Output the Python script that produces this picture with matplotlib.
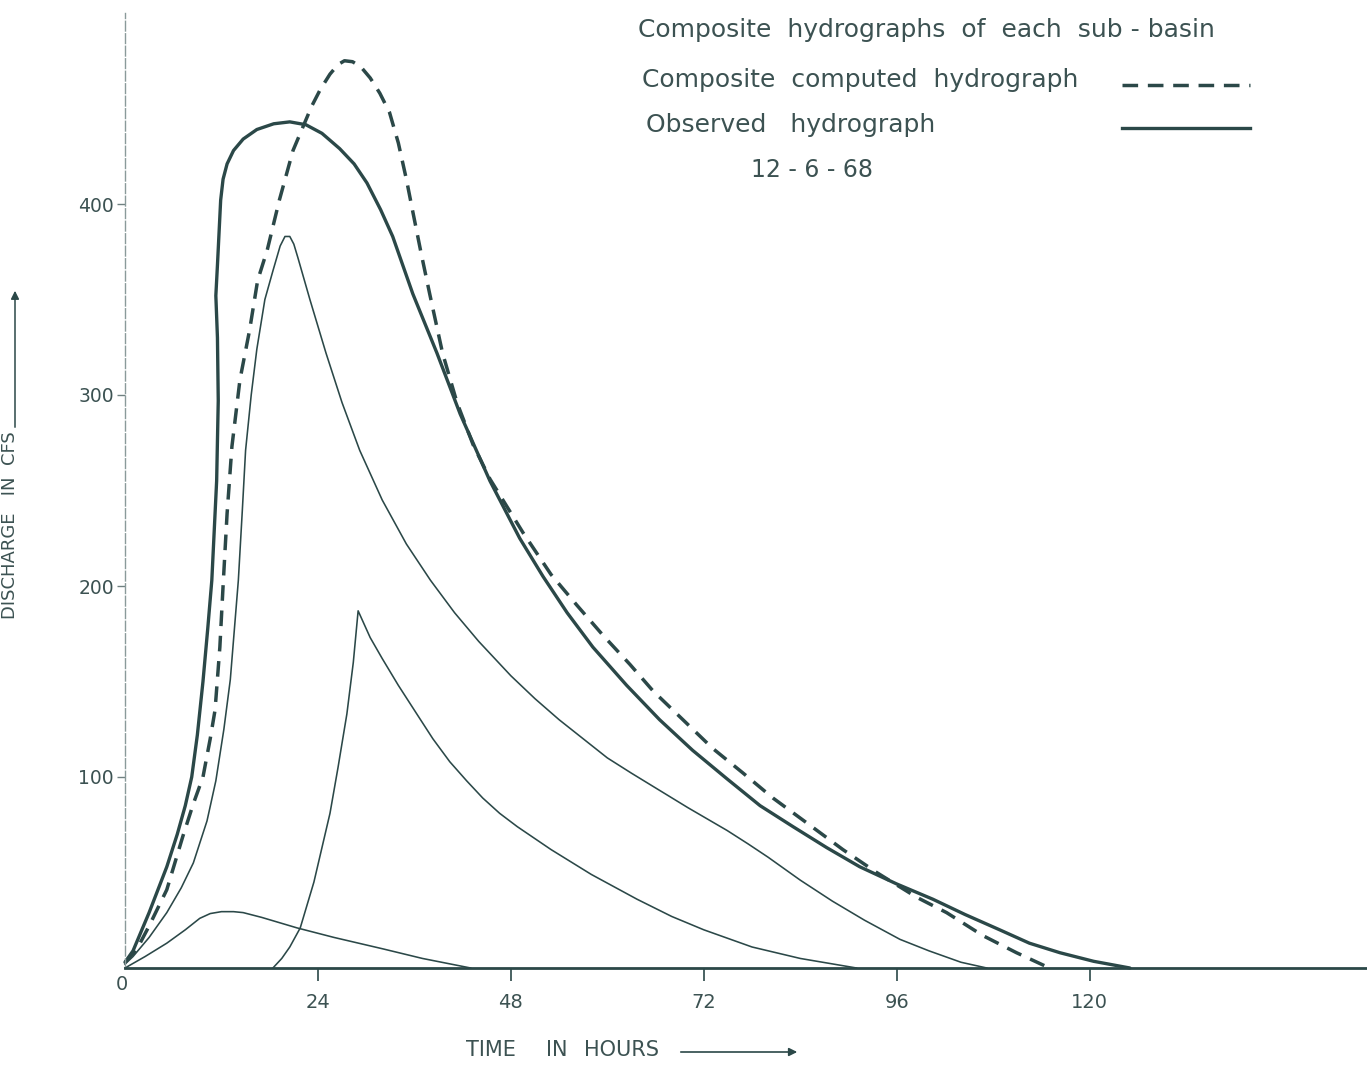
import matplotlib
matplotlib.use('Agg')
import matplotlib.pyplot as plt

# --- Hydrograph data, storm of 12-6-68 (hours, cfs) ---
obs_t = [0, 1, 3, 5.2, 6.5, 7.5, 8.3, 9.0, 9.7, 10.3, 10.8, 11.4, 11.6, 11.5, 11.3, 11.5,
         11.7, 11.9, 12.2, 12.7, 13.5, 14.7, 16.4, 18.5, 20.5, 22.5, 24.5, 26.7, 28.5,
         30.1, 31.8, 33.3, 35.8, 38.8, 41.7, 45.4, 49.1, 52, 55, 58.2, 62.4, 66.5, 70.6,
         74.9, 79, 83.1, 87.3, 91.4, 96, 100.5, 104.5, 108.8, 112.5, 116.3, 120.5, 125]
obs_q = [3, 9, 29, 53, 70, 85, 100, 122, 150, 178, 203, 255, 297, 330, 352, 368,
         385, 402, 413, 421, 428, 434, 439, 442, 443, 441.5, 437, 429, 421,
         411, 397, 383, 353, 322, 290, 255, 225, 205, 186, 168, 148, 130, 114,
         99, 85, 74, 63, 53, 44, 36, 28, 20, 13, 8, 3.5, 0]

comp_t = [0, 1.5, 3, 5.2, 7.2, 8.5, 9.7, 10.6, 11.2, 11.8, 12.2, 12.7, 13.3, 14.3, 15.5,
          16.5, 17.7, 19.2, 20.9, 22.1, 23.2, 24.3, 25.5, 26.5, 27.3, 28.3, 29.3, 30.5,
          31.7, 32.9, 34.0, 35.0, 35.8, 36.8, 37.9, 39.5, 41.3, 43.3, 45.4, 49.5, 53,
          56.2, 59.5, 62.8, 65.7, 69.4, 73.1, 76.9, 80.6, 84.8, 89.3, 93.5, 98.5, 102.2,
          106.7, 110.9, 115]
comp_q = [3, 10, 22, 41, 69, 86, 100, 120, 135, 168, 200, 238, 273, 308, 334,
          360, 376, 402, 428, 440, 451, 460, 468, 473, 475, 474.5, 472, 466,
          458, 448, 432, 413, 396, 375, 353, 322, 296, 274, 256, 228, 206,
          190, 174, 159, 145, 130, 115, 102, 89, 76, 62, 50, 37, 29,
          17, 8, 0]

# sub-basin hydrographs
sb1_t = [0, 1, 3, 5.2, 7, 8.5, 10.2, 11.3, 12.3, 13.1, 14.1, 14.6, 15.0, 15.7, 16.4, 17.4,
         18.4, 19.3, 19.9, 20.5, 21.0, 21.5, 23, 25, 27, 29.2, 32, 35, 38, 41, 44, 48,
         51, 54, 57, 60, 63, 66.5, 70, 74.9, 77.5, 80, 84, 88, 92, 96.4, 100, 104, 107.2]
sb1_q = [2, 6, 16, 29, 42, 55, 77, 98, 125, 151, 203, 240, 271, 300, 324, 350,
         365, 378, 383, 383, 379, 372, 350, 322, 296, 271, 245, 222, 203, 186, 171, 153,
         141, 130, 120, 110, 102, 93, 84, 72, 65, 58, 46, 35, 25, 15, 9, 3, 0]

sb2_t = [18.4, 19.5, 20.5, 21.8, 23.5, 25.5, 26.5, 27.6, 28.4, 29.0, 30.5, 32, 34, 36.3,
         38.3, 40.4, 42.5, 44.5, 46.6, 48.8, 50.9, 53, 58, 63.7, 68, 72, 78, 84, 91]
sb2_q = [0, 5, 11, 21, 45, 81, 105, 133, 160, 187, 173, 162, 148, 133,
         120, 108, 98, 89, 81, 74, 68, 62, 49, 36, 27, 20, 11, 5, 0]

sb3_t = [0, 2.5, 5.2, 7.5, 9.3, 10.6, 12, 13.5, 14.7, 17, 21.4, 26, 32.1, 37, 43]
sb3_q = [0, 6, 13, 20, 26, 28.5, 29.5, 29.5, 29, 26.5, 21, 16, 10, 5, 0]

x_ticks = [24, 48, 72, 96, 120]
y_ticks = [100, 200, 300, 400]

INK = '#2b4848'
TXT = '#3c5252'
W, H = 1367, 1065


def fx(px):
    return px / W


def fy(py):
    return 1 - py / H


fig = plt.figure(figsize=(13.67, 10.65), dpi=100)
fig.patch.set_facecolor('white')
ax = fig.add_axes([fx(125), fy(968), 1 - fx(125), fy(13) - fy(968)])
ax.set_xlim(0, 154.5)
ax.set_ylim(0, 500)

# sub-basin curves (thin)
for t, q in [(sb1_t, sb1_q), (sb2_t, sb2_q), (sb3_t, sb3_q)]:
    ax.plot(t, q, color=INK, lw=1.15, solid_joinstyle='round', clip_on=False)

# composite computed (dashed) and observed (heavy solid)
ax.plot(comp_t, comp_q, color=INK, lw=2.5, dashes=(4.5, 2.8), clip_on=False)
ax.plot(obs_t, obs_q, color=INK, lw=2.4, solid_joinstyle='round',
        solid_capstyle='round', clip_on=False)

# axes styling
for s in ['top', 'right']:
    ax.spines[s].set_visible(False)
ax.spines['bottom'].set_color(INK)
ax.spines['bottom'].set_linewidth(2.0)
ax.spines['left'].set_color('#8a9a9a')
ax.spines['left'].set_linewidth(1.0)
ax.spines['left'].set_linestyle((0, (7, 2)))

ax.set_xticks(x_ticks)
ax.set_xticklabels([str(v) for v in x_ticks])
ax.set_yticks(y_ticks)
ax.set_yticklabels([str(v) for v in y_ticks])
ax.tick_params(axis='x', direction='out', length=9, width=1.2, color=INK,
               pad=9, labelsize=14, labelcolor=TXT)
ax.tick_params(axis='y', direction='out', length=6, width=1.0, color='#6f8080',
               pad=2, labelsize=13.5, labelcolor=TXT)
fig.text(fx(122), fy(984), '0', ha='center', va='center', fontsize=14, color=TXT)

# axis titles
for word, xc in [('TIME', 491), ('IN', 557), ('HOURS', 622)]:
    fig.text(fx(xc), fy(1050), word, ha='center', va='center', fontsize=15, color=TXT)
fig.add_artist(matplotlib.patches.FancyArrowPatch(
    (fx(678), fy(1052)), (fx(800), fy(1052)), transform=fig.transFigure,
    arrowstyle='-|>', mutation_scale=12, color=INK, lw=1.2))
fig.text(fx(10), fy(525), 'DISCHARGE   IN  CFS', ha='center', va='center',
         rotation=90, fontsize=13, color=TXT)
fig.add_artist(matplotlib.patches.FancyArrowPatch(
    (fx(15), fy(430)), (fx(15), fy(288)), transform=fig.transFigure,
    arrowstyle='-|>', mutation_scale=12, color=INK, lw=1.1))

# legend block
fig.text(fx(638), fy(30), 'Composite  hydrographs  of  each  sub - basin',
         ha='left', va='center', fontsize=18, color=TXT)
fig.text(fx(642), fy(80), 'Composite  computed  hydrograph',
         ha='left', va='center', fontsize=18, color=TXT)
fig.text(fx(646), fy(125), 'Observed   hydrograph',
         ha='left', va='center', fontsize=18, color=TXT)
fig.text(fx(812), fy(170), '12 - 6 - 68', ha='center', va='center',
         fontsize=17, color=TXT)
fig.add_artist(matplotlib.lines.Line2D([fx(1122), fx(1250)], [fy(85), fy(85)],
                                       color=INK, lw=2.5, dashes=(4.5, 2.8)))
fig.add_artist(matplotlib.lines.Line2D([fx(1122), fx(1250)], [fy(128), fy(128)],
                                       color=INK, lw=2.4))

plt.savefig('out.png', dpi=100, facecolor='white')
